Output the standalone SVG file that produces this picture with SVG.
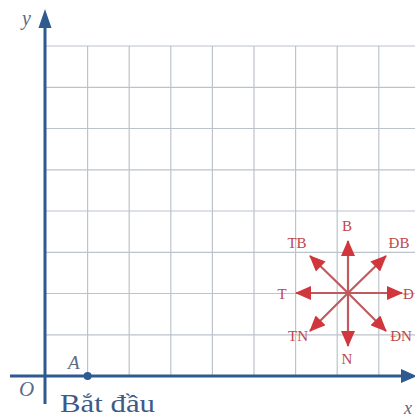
<svg xmlns="http://www.w3.org/2000/svg" width="415" height="418" viewBox="0 0 415 418">
<defs>
<style>
.grid line{stroke:#bcc3cc;stroke-width:1.2}
.axis{stroke:#2f5a8f;stroke-width:3}
.lbl{font-family:"Liberation Serif",serif;font-style:italic;fill:#5b6b86}
.dir{font-family:"Liberation Serif",serif;font-size:15px;fill:#c0464a;text-anchor:middle}
.arr{stroke:#c05a5e;stroke-width:2.2;marker-end:url(#rh)}
</style>
<marker id="rh" viewBox="0 0 16 14" refX="15" refY="7" markerWidth="16" markerHeight="14" markerUnits="userSpaceOnUse" orient="auto">
<path d="M0,0 L16,7 L0,14 Z" fill="#d0363b"/>
</marker>
</defs>
<rect width="415" height="418" fill="#ffffff"/>
<g id="grid" class="grid">
<line x1="46" y1="46" x2="415" y2="46"/>
<line x1="46" y1="87.3" x2="415" y2="87.3"/>
<line x1="46" y1="128.5" x2="415" y2="128.5"/>
<line x1="46" y1="169.8" x2="415" y2="169.8"/>
<line x1="46" y1="211" x2="415" y2="211"/>
<line x1="46" y1="252.3" x2="415" y2="252.3"/>
<line x1="46" y1="293.5" x2="415" y2="293.5"/>
<line x1="46" y1="334.8" x2="415" y2="334.8"/>
<line x1="87.6" y1="46" x2="87.6" y2="376"/>
<line x1="129.2" y1="46" x2="129.2" y2="376"/>
<line x1="170.8" y1="46" x2="170.8" y2="376"/>
<line x1="212.4" y1="46" x2="212.4" y2="376"/>
<line x1="254" y1="46" x2="254" y2="376"/>
<line x1="295.6" y1="46" x2="295.6" y2="376"/>
<line x1="337.2" y1="46" x2="337.2" y2="376"/>
<line x1="378.8" y1="46" x2="378.8" y2="376"/>
</g>
<g id="axes">
<line class="axis" x1="10" y1="376" x2="404" y2="376"/>
<path d="M401,369 L417,376 L401,383 Z" fill="#2f5a8f"/>
<line class="axis" x1="45" y1="404" x2="45" y2="24"/>
<path d="M38.5,28 L45,9 L51.5,28 Z" fill="#2f5a8f"/>
</g>
<g id="labels">
<text class="lbl" x="22" y="25" font-size="20">y</text>
<text class="lbl" x="19" y="396" font-size="21">O</text>
<text class="lbl" x="68" y="369" font-size="19">A</text>
<text class="lbl" x="404" y="414" font-size="18">x</text>
<circle cx="87.6" cy="376" r="4" fill="#2f5a8f"/>
<text x="60" y="412" font-family="'Liberation Serif',serif" font-size="25" fill="#3e5a86" textLength="95" lengthAdjust="spacingAndGlyphs">Bắt đầu</text>
</g>
<g id="compass">
<line class="arr" x1="348" y1="293" x2="348" y2="241"/>
<line class="arr" x1="348" y1="293" x2="348" y2="346"/>
<line class="arr" x1="348" y1="293" x2="402" y2="293"/>
<line class="arr" x1="348" y1="293" x2="296" y2="293"/>
<line class="arr" x1="348" y1="293" x2="386" y2="256"/>
<line class="arr" x1="348" y1="293" x2="310" y2="256"/>
<line class="arr" x1="348" y1="293" x2="386" y2="331"/>
<line class="arr" x1="348" y1="293" x2="310" y2="331"/>
</g>
<g id="dirlabels">
<text class="dir" x="347" y="231">B</text>
<text class="dir" x="297" y="248">TB</text>
<text class="dir" x="399" y="248">ĐB</text>
<text class="dir" x="282" y="299">T</text>
<text class="dir" x="403" y="299" style="text-anchor:start">Đ</text>
<text class="dir" x="401" y="341">ĐN</text>
<text class="dir" x="298" y="341">TN</text>
<text class="dir" x="347" y="364">N</text>
</g>
</svg>
